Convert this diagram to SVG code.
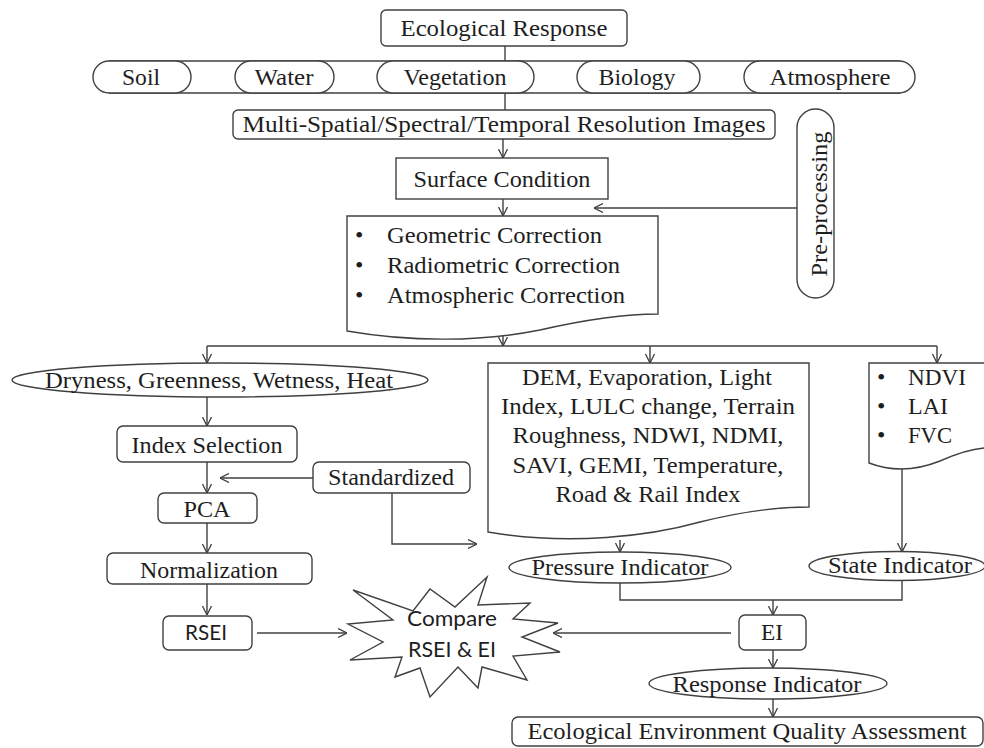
<svg xmlns="http://www.w3.org/2000/svg" width="984" height="748" viewBox="0 0 984 748">
<defs>
<marker id="ah" viewBox="0 0 9 10" refX="9" refY="5" markerWidth="9" markerHeight="10" markerUnits="userSpaceOnUse" orient="auto">
<path d="M0,0.5 L9,5 L0,9.5" fill="none" stroke="#404040" stroke-width="1.3"/>
</marker>
</defs>
<style>
.bx{fill:#fff;stroke:#404040;stroke-width:1.4}
.ln{fill:none;stroke:#404040;stroke-width:1.4}
.ar{fill:none;stroke:#404040;stroke-width:1.4;marker-end:url(#ah)}
.t{font-family:'Liberation Serif','Times New Roman',Times,serif;font-size:24px;fill:#1e1e1e}
.c{text-anchor:middle}
.s{font-family:Lato,'Open Sans','Liberation Sans',sans-serif;font-size:22px;fill:#1e1e1e;text-anchor:middle}
</style>
<rect width="984" height="748" fill="#fff"/>

<g id="connectors">
<path class="ln" d="M505,46 V61"/>
<path class="ln" d="M505,93 V110"/>
<path class="ar" d="M503,139 V158"/>
<path class="ar" d="M503,199 V216"/>
<path class="ar" d="M797,208 H594"/>
<path class="ar" d="M503,336 V346"/>
<path class="ln" d="M207,346 H937"/>
<path class="ar" d="M207,346 V363"/>
<path class="ar" d="M650,346 V363"/>
<path class="ar" d="M937,346 V363"/>
<path class="ar" d="M207,397 V426"/>
<path class="ar" d="M207,462 V493"/>
<path class="ar" d="M313,478 H220"/>
<path class="ar" d="M392,493 V544 H477"/>
<path class="ar" d="M207,523 V553"/>
<path class="ar" d="M207,584 V615"/>
<path class="ar" d="M257,633 H347"/>
<path class="ar" d="M731,633 H553"/>
<path class="ar" d="M620,540 V552"/>
<path class="ar" d="M902,468 V552"/>
<path class="ln" d="M620,583 V600 H902 V580"/>
<path class="ar" d="M773,600 V615"/>
<path class="ar" d="M773,650 V668"/>
<path class="ar" d="M773,699 V717"/>
</g>

<g id="ecological-response">
<rect class="bx" x="381" y="10" width="246" height="36" rx="5"/>
<text class="t c" x="504" y="36" textLength="207" lengthAdjust="spacingAndGlyphs">Ecological Response</text>
</g>

<g id="components">
<path class="ln" d="M109,61 H900 M109,93 H900"/>
<g id="soil">
<rect class="bx" x="93" y="61" width="98" height="32" rx="16"/>
<text class="t c" x="141" y="85" textLength="38" lengthAdjust="spacingAndGlyphs">Soil</text>
</g>
<g id="water">
<rect class="bx" x="235" y="61" width="99" height="32" rx="16"/>
<text class="t c" x="284" y="85" textLength="59" lengthAdjust="spacingAndGlyphs">Water</text>
</g>
<g id="vegetation">
<rect class="bx" x="377" y="61" width="157" height="32" rx="16"/>
<text class="t c" x="455" y="85" textLength="103" lengthAdjust="spacingAndGlyphs">Vegetation</text>
</g>
<g id="biology">
<rect class="bx" x="577" y="61" width="123" height="32" rx="16"/>
<text class="t c" x="637" y="85" textLength="77" lengthAdjust="spacingAndGlyphs">Biology</text>
</g>
<g id="atmosphere">
<rect class="bx" x="744" y="61" width="171" height="32" rx="16"/>
<text class="t c" x="830" y="85" textLength="121" lengthAdjust="spacingAndGlyphs">Atmosphere</text>
</g>
</g>

<g id="images">
<rect class="bx" x="233" y="110" width="542" height="29" rx="5"/>
<text class="t c" x="504" y="132" textLength="523" lengthAdjust="spacingAndGlyphs">Multi-Spatial/Spectral/Temporal  Resolution Images</text>
</g>

<g id="surface-condition">
<rect class="bx" x="396" y="158" width="212" height="41"/>
<text class="t c" x="502" y="187" textLength="177" lengthAdjust="spacingAndGlyphs">Surface Condition</text>
</g>

<g id="pre-processing">
<rect class="bx" x="797" y="109" width="37" height="189" rx="18.5"/>
<text class="t c" x="827" y="204" transform="rotate(-90 827 204)" textLength="145" lengthAdjust="spacingAndGlyphs">Pre-processing</text>
</g>

<g id="corrections">
<path class="bx" d="M347,216 H658 V314 C620,314 575,322 540,330 C480,342 410,342 347,331 Z"/>
<text class="t" x="355" y="243">•</text>
<text class="t" x="387" y="243" textLength="215" lengthAdjust="spacingAndGlyphs">Geometric Correction</text>
<text class="t" x="355" y="273">•</text>
<text class="t" x="387" y="273" textLength="233" lengthAdjust="spacingAndGlyphs">Radiometric Correction</text>
<text class="t" x="355" y="303">•</text>
<text class="t" x="387" y="303" textLength="238" lengthAdjust="spacingAndGlyphs">Atmospheric Correction</text>
</g>

<g id="dgwh">
<ellipse class="bx" cx="220" cy="380" rx="208" ry="17"/>
<text class="t c" x="219" y="388" textLength="348" lengthAdjust="spacingAndGlyphs">Dryness, Greenness, Wetness, Heat</text>
</g>

<g id="index-selection">
<rect class="bx" x="117" y="426" width="180" height="36" rx="6"/>
<text class="t c" x="207" y="453" textLength="151" lengthAdjust="spacingAndGlyphs">Index Selection</text>
</g>

<g id="standardized">
<rect class="bx" x="313" y="462" width="157" height="31" rx="6"/>
<text class="t c" x="391" y="485" textLength="126" lengthAdjust="spacingAndGlyphs">Standardized</text>
</g>

<g id="pca">
<rect class="bx" x="158" y="493" width="99" height="30" rx="6"/>
<text class="t c" x="207" y="517" textLength="47" lengthAdjust="spacingAndGlyphs">PCA</text>
</g>

<g id="normalization">
<rect class="bx" x="107" y="553" width="205" height="31" rx="6"/>
<text class="t c" x="209" y="578" textLength="138" lengthAdjust="spacingAndGlyphs">Normalization</text>
</g>

<g id="rsei">
<rect class="bx" x="163" y="616" width="89" height="34" rx="6"/>
<text class="s" x="206" y="640" textLength="42" lengthAdjust="spacingAndGlyphs">RSEI</text>
</g>

<g id="compare">
<path class="bx" d="M353,590 L413,611 L430,589 L455,607 L487,577 L478,605 L530,603 L513,619 L558,623 L522,637 L560,652 L513,656 L527,680 L482,667 L478,688 L458,667 L430,697 L420,668 L395,677 L402,657 L350,660 L383,642 L348,624 L393,620 Z"/>
<text class="s" x="452" y="626" textLength="90" lengthAdjust="spacingAndGlyphs">Compare</text>
<text class="s" x="452" y="657" textLength="88" lengthAdjust="spacingAndGlyphs">RSEI &amp; EI</text>
</g>

<g id="pressure-indices">
<path class="bx" d="M488,363 H809 V507 C780,507 740,512 700,522 C650,536 570,546 488,532 Z"/>
<text class="t c" x="647" y="385" textLength="250" lengthAdjust="spacingAndGlyphs">DEM, Evaporation, Light</text>
<text class="t c" x="648" y="414" textLength="294" lengthAdjust="spacingAndGlyphs">Index, LULC change,  Terrain</text>
<text class="t c" x="648" y="443" textLength="271" lengthAdjust="spacingAndGlyphs">Roughness, NDWI, NDMI,</text>
<text class="t c" x="648" y="473" textLength="271" lengthAdjust="spacingAndGlyphs">SAVI, GEMI, Temperature,</text>
<text class="t c" x="648" y="502" textLength="185" lengthAdjust="spacingAndGlyphs">Road &amp; Rail Index</text>
</g>

<g id="state-indices">
<path class="bx" d="M984,363 H869 V463 C890,471 915,471 940,461 C958,453 972,449 984,448"/>
<text class="t" x="877" y="385">•</text>
<text class="t" x="908" y="385" textLength="58" lengthAdjust="spacingAndGlyphs">NDVI</text>
<text class="t" x="877" y="414">•</text>
<text class="t" x="908" y="414" textLength="40" lengthAdjust="spacingAndGlyphs">LAI</text>
<text class="t" x="877" y="443">•</text>
<text class="t" x="908" y="443" textLength="44" lengthAdjust="spacingAndGlyphs">FVC</text>
</g>

<g id="pressure-indicator">
<ellipse class="bx" cx="620" cy="567.5" rx="111" ry="15.5"/>
<text class="t c" x="620" y="575" textLength="177" lengthAdjust="spacingAndGlyphs">Pressure Indicator</text>
</g>

<g id="state-indicator">
<ellipse class="bx" cx="897" cy="566" rx="88" ry="14.5"/>
<text class="t c" x="900" y="573" textLength="144" lengthAdjust="spacingAndGlyphs">State Indicator</text>
</g>

<g id="ei">
<rect class="bx" x="739" y="615" width="67" height="35" rx="6"/>
<text class="t c" x="772" y="640" textLength="22" lengthAdjust="spacingAndGlyphs">EI</text>
</g>

<g id="response-indicator">
<ellipse class="bx" cx="768" cy="683.5" rx="119" ry="15.5"/>
<text class="t c" x="767" y="692" textLength="189" lengthAdjust="spacingAndGlyphs">Response Indicator</text>
</g>

<g id="assessment">
<rect class="bx" x="512" y="717" width="471" height="29" rx="6"/>
<text class="t c" x="747" y="739" textLength="439" lengthAdjust="spacingAndGlyphs">Ecological Environment Quality Assessment</text>
</g>
</svg>
